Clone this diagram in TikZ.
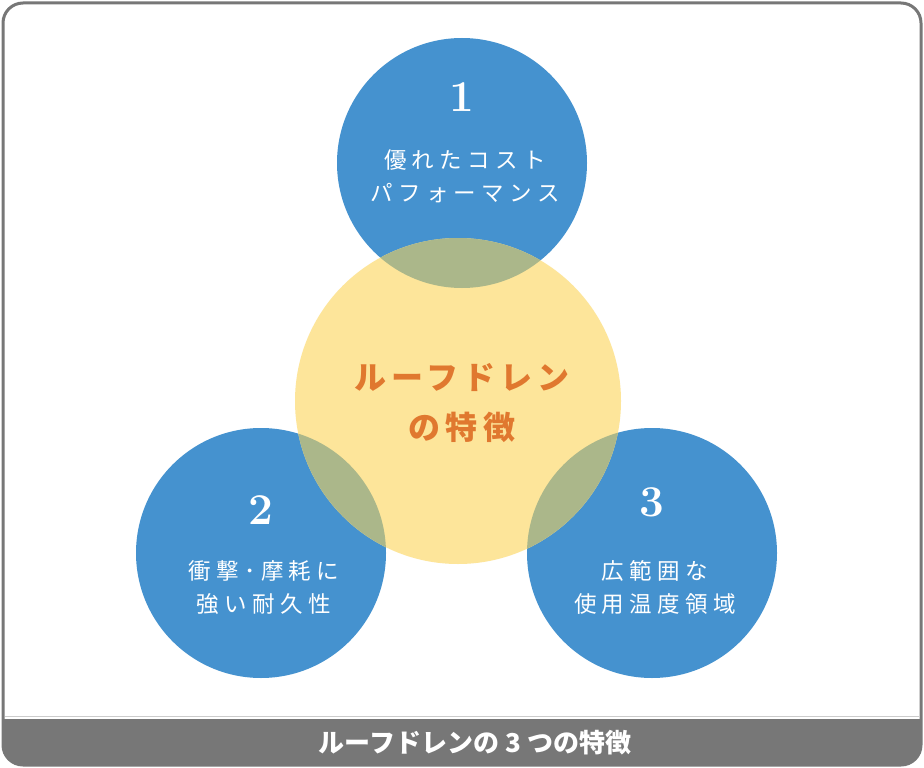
\documentclass[tikz,border=0pt]{standalone}
\usepackage{fontspec}
\newfontfamily\jpsp[LetterSpace=24]{Noto Sans CJK JP}
\newfontfamily\jpcenter[LetterSpace=16]{Noto Sans CJK JP}
\newfontfamily\jpbar{Noto Sans CJK JP}
\definecolor{bluec}{HTML}{4592CF}
\definecolor{yellowc}{HTML}{FDE59A}
\definecolor{overlapc}{HTML}{ABB78A}
\definecolor{framec}{HTML}{777777}
\definecolor{orangec}{HTML}{E0782F}
\tikzset{
  bluecirc/.style={fill=bluec},
  numtext/.style={text=white, font=\bfseries\fontsize{44}{44}\selectfont, inner sep=0pt},
  jptext/.style={text=white, font=\jpsp\fontsize{22.5}{33}\selectfont, align=center, inner sep=0pt},
  centertext/.style={text=orangec, font=\jpcenter\bfseries\fontsize{32}{50}\selectfont, align=center, inner sep=0pt},
  bartext/.style={text=white, font=\jpbar\bfseries\fontsize{26}{26}\selectfont, inner sep=0pt}
}
\begin{document}
\begin{tikzpicture}[x=1pt,y=-1pt]
\useasboundingbox (0,0) rectangle (924,768);
\fill[white] (0,0) rectangle (924,768);
% circles
\fill[bluecirc] (462,163) circle (125);
\fill[bluecirc] (261,553) circle (125);
\fill[bluecirc] (652,553) circle (125);
\fill[yellowc] (458,401) circle (163);
\begin{scope}
  \clip (462,163) circle (125);
  \fill[overlapc] (458,401) circle (163);
\end{scope}
\begin{scope}
  \clip (261,553) circle (125);
  \fill[overlapc] (458,401) circle (163);
\end{scope}
\begin{scope}
  \clip (652,553) circle (125);
  \fill[overlapc] (458,401) circle (163);
\end{scope}
% texts
\node[numtext] (n1) at (462,97) {1};
\node[jptext] (t1) at (465,176) {優れたコスト\\パフォーマンス};
\node[numtext] (n2) at (261,510) {2};
\node[jptext] (t2) at (264,588) {衝撃･摩耗に\\強い耐久性};
\node[numtext] (n3) at (652,502) {3};
\node[jptext] (t3) at (655,587) {広範囲な\\使用温度領域};
\node[centertext] (c) at (462,403) {ルーフドレン\\の特徴};
% frame and bar
\begin{scope}
  \clip[rounded corners=20] (3,3) rectangle (921,765);
  \fill[framec] (0,719) rectangle (924,768);
\end{scope}
\draw[white!80!black, line width=1.2pt] (5,716.5) -- (919,716.5);
\draw[framec, line width=3pt, rounded corners=20] (3,3) rectangle (921,765);
\node[bartext] (bar) at (475,743) {ルーフドレンの 3 つの特徴};
\end{tikzpicture}
\end{document}
